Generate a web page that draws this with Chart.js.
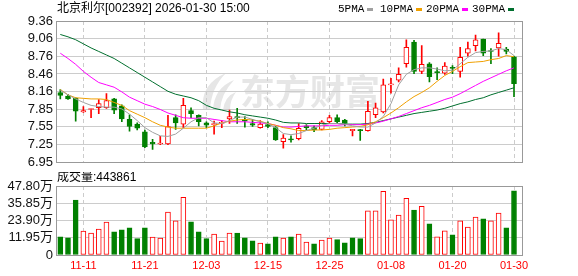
<!DOCTYPE html>
<html lang="zh">
<head>
<meta charset="UTF-8">
<script src="https://cdn.jsdelivr.net/npm/chart.js@4.4.0/dist/chart.umd.min.js"></script>
<title>北京利尔 日K</title>
<style>
    body { margin: 0; background: #fff; }
    canvas { position: absolute; left: 0; }
</style>
</head>
<body>
<canvas id="price" width="578" height="173" style="top:0"></canvas>
<canvas id="volume" width="578" height="104" style="top:172px"></canvas>

<script>
    const dates = ['11-06', '11-07', '11-10', '11-11', '11-12', '11-13', '11-14', '11-17', '11-18', '11-19',
        '11-20', '11-21', '11-24', '11-25', '11-26', '11-27', '11-28', '12-01', '12-02', '12-03',
        '12-04', '12-05', '12-08', '12-09', '12-10', '12-11', '12-12', '12-15', '12-16', '12-17',
        '12-18', '12-19', '12-22', '12-23', '12-24', '12-25', '12-26', '12-29', '12-30', '12-31',
        '01-05', '01-06', '01-07', '01-08', '01-09', '01-12', '01-13', '01-14', '01-15', '01-16',
        '01-19', '01-20', '01-21', '01-22', '01-23', '01-26', '01-27', '01-28', '01-29', '01-30'];

    const openP = [8.14, 8.08, 8.04, 7.81, 7.85, 7.88, 7.88, 8.03, 7.91, 7.68,
        7.60, 7.47, 7.29, 7.26, 7.26, 7.71, 7.60, 7.83, 7.75, 7.62,
        7.59, 7.61, 7.69, 7.73, 7.68, 7.61, 7.54, 7.59, 7.54, 7.30,
        7.34, 7.35, 7.57, 7.54, 7.51, 7.64, 7.71, 7.67, 7.49, 7.50,
        7.49, 7.76, 7.81, 8.27, 8.35, 8.63, 9.00, 8.50, 8.63, 8.49,
        8.47, 8.57, 8.50, 8.81, 8.94, 9.05, 8.85, 8.90, 8.88, 8.75];
    const closeP = [8.09, 8.03, 7.82, 7.83, 7.86, 7.95, 8.00, 7.84, 7.69, 7.56,
        7.53, 7.21, 7.26, 7.27, 7.56, 7.62, 7.92, 7.78, 7.64, 7.58,
        7.61, 7.63, 7.73, 7.71, 7.65, 7.58, 7.60, 7.56, 7.33, 7.36,
        7.33, 7.53, 7.54, 7.50, 7.64, 7.71, 7.64, 7.61, 7.51, 7.49,
        7.82, 7.88, 8.27, 8.28, 8.45, 8.91, 8.50, 8.62, 8.41, 8.48,
        8.59, 8.55, 8.74, 8.89, 9.04, 8.81, 8.84, 8.98, 8.84, 8.29];
    const highP = [8.19, 8.11, 8.05, 7.90, 7.86, 8.02, 8.12, 8.04, 7.93, 7.76,
        7.62, 7.50, 7.34, 7.39, 7.75, 7.76, 8.04, 7.88, 7.76, 7.64,
        7.65, 7.66, 7.84, 7.87, 7.73, 7.68, 7.66, 7.64, 7.56, 7.42,
        7.40, 7.61, 7.59, 7.57, 7.66, 7.75, 7.76, 7.68, 7.51, 7.51,
        7.99, 7.96, 8.37, 8.38, 8.56, 9.04, 9.03, 8.94, 8.65, 8.56,
        8.65, 8.60, 8.91, 9.00, 9.12, 9.05, 8.89, 9.16, 8.91, 8.76];
    const lowP = [8.03, 8.02, 7.65, 7.80, 7.71, 7.78, 7.87, 7.78, 7.64, 7.48,
        7.50, 7.20, 7.17, 7.25, 7.25, 7.51, 7.54, 7.71, 7.57, 7.54,
        7.43, 7.54, 7.61, 7.61, 7.55, 7.56, 7.53, 7.54, 7.32, 7.19,
        7.29, 7.33, 7.50, 7.47, 7.50, 7.61, 7.61, 7.57, 7.40, 7.32,
        7.48, 7.71, 7.79, 8.13, 8.32, 8.57, 8.46, 8.46, 8.32, 8.36,
        8.45, 8.46, 8.40, 8.76, 8.85, 8.77, 8.63, 8.76, 8.80, 8.07];

    // 成交量 (万)
    const volume = [12.6, 11.9, 38.1, 16.6, 15.2, 17.9, 22.8, 16.1, 17.5, 18.8,
        11.3, 18.8, 12.4, 11.7, 29.7, 23.7, 40.0, 23.0, 16.1, 11.3,
        14.5, 9.7, 15.2, 15.2, 11.9, 9.9, 8.3, 7.8, 12.6, 11.7,
        12.6, 14.5, 9.0, 7.8, 10.3, 11.7, 10.6, 8.5, 11.9, 11.3,
        30.6, 30.6, 44.1, 24.4, 27.6, 39.3, 31.2, 33.8, 21.6, 12.6,
        16.8, 14.0, 23.7, 19.3, 26.2, 25.0, 23.7, 29.0, 18.8, 44.3861];

    const ma5 = [8.18, 8.10, 8.03, 7.97, 7.92, 7.90, 7.89, 7.89, 7.86, 7.77,
        7.66, 7.54, 7.46, 7.40, 7.39, 7.43, 7.53, 7.64, 7.71, 7.71,
        7.62, 7.61, 7.66, 7.72, 7.72, 7.68, 7.64, 7.61, 7.54, 7.44,
        7.42, 7.44, 7.49, 7.53, 7.58, 7.61, 7.61, 7.60, 7.57, 7.55,
        7.55, 7.62, 7.73, 7.95, 8.27, 8.45, 8.53, 8.56, 8.56, 8.54,
        8.51, 8.52, 8.63, 8.74, 8.82, 8.84, 8.85, 8.89, 8.87, 8.77];
    const ma10 = [8.19, 8.10, 8.05, 8.04, 8.03, 8.03, 8.02, 7.97, 7.92, 7.83,
        7.77, 7.71, 7.64, 7.58, 7.55, 7.53, 7.53, 7.53, 7.53, 7.53,
        7.57, 7.62, 7.65, 7.67, 7.68, 7.67, 7.65, 7.61, 7.58, 7.54,
        7.52, 7.49, 7.49, 7.50, 7.50, 7.51, 7.53, 7.54, 7.55, 7.56,
        7.59, 7.64, 7.71, 7.79, 7.88, 7.98, 8.07, 8.14, 8.22, 8.33,
        8.43, 8.50, 8.58, 8.65, 8.66, 8.67, 8.70, 8.72, 8.77, 8.75];
    const ma20 = [8.81, 8.72, 8.62, 8.50, 8.40, 8.31, 8.27, 8.23, 8.15, 8.06,
        8.00, 7.94, 7.90, 7.85, 7.79, 7.75, 7.71, 7.70, 7.70, 7.70,
        7.68, 7.66, 7.64, 7.64, 7.64, 7.63, 7.62, 7.61, 7.58, 7.55,
        7.55, 7.56, 7.57, 7.57, 7.57, 7.58, 7.58, 7.59, 7.59, 7.59,
        7.60, 7.62, 7.65, 7.69, 7.73, 7.78, 7.83, 7.88, 7.92, 7.97,
        8.02, 8.06, 8.12, 8.19, 8.26, 8.33, 8.39, 8.45, 8.51, 8.56];
    const ma30 = [9.13, 9.09, 9.04, 8.97, 8.90, 8.84, 8.78, 8.72, 8.64, 8.56,
        8.48, 8.40, 8.32, 8.24, 8.16, 8.11, 8.08, 8.05, 8.00, 7.92,
        7.87, 7.84, 7.81, 7.79, 7.76, 7.74, 7.72, 7.70, 7.67, 7.63,
        7.62, 7.62, 7.61, 7.61, 7.61, 7.61, 7.61, 7.60, 7.60, 7.60,
        7.61, 7.63, 7.66, 7.69, 7.72, 7.75, 7.78, 7.80, 7.82, 7.84,
        7.87, 7.91, 7.95, 7.98, 8.02, 8.05, 8.10, 8.14, 8.18, 8.22];

    const priceTicks = ['6.95', '7.25', '7.55', '7.85', '8.16', '8.46', '8.76', '9.06', '9.36'];
    const volTicks = ['0', '11.95万', '23.90万', '35.85万', '47.80万'];
    const xTickIdx = [3, 11, 19, 27, 35, 43, 51, 59];

    const UP = '#ff0000';
    const DOWN = '#008000';
    const GRID = '#cccccc';
    const FRAME = '#999999';
    const LABEL_FONT = {family: "'Liberation Sans', Arial, 'Noto Sans CJK SC'", size: 13};

    const isUp = closeP.map((c, i) => c >= openP[i]);
    const volUp = closeP.map((c, i) => i > 0 && c >= closeP[i - 1]);

    function xAxis(showLabels) {
        return {
            type: 'linear',
            offset: false,
            min: -0.56,
            max: 60.04,
            afterBuildTicks: s => { s.ticks = xTickIdx.map(v => ({value: v})); },
            afterFit: s => { s.height = showLabels ? 21 : 0; },
            grid: {color: GRID, drawTicks: false, offset: false},
            border: {display: false, dash: [4, 3]},
            ticks: {
                display: showLabels, autoSkip: false, maxRotation: 0, padding: 4,
                color: UP, font: {family: "'Liberation Sans', Arial", size: 11},
                callback: v => dates[v]
            }
        };
    }

    function yAxis(labels) {
        const lo = parseFloat(labels[0]);
        const hi = parseFloat(labels[labels.length - 1]);
        const step = (hi - lo) / (labels.length - 1);
        return {
            min: lo,
            max: hi,
            afterBuildTicks: s => { s.ticks = labels.map((t, k) => ({value: lo + k * step})); },
            afterFit: s => { s.width = 56; },
            grid: {color: GRID, drawTicks: false},
            border: {display: false},
            ticks: {
                autoSkip: false, padding: 3, color: '#111', font: LABEL_FONT,
                callback: (v, k) => labels[k]
            }
        };
    }

    const framePlugin = {
        id: 'frame',
        afterDraw(chart) {
            const {ctx, chartArea: a} = chart;
            ctx.save();
            ctx.strokeStyle = FRAME;
            ctx.lineWidth = 1;
            ctx.strokeRect(Math.round(a.left) + 0.5, Math.round(a.top) + 0.5,
                Math.round(a.right - a.left), Math.round(a.bottom - a.top));
            ctx.restore();
        }
    };

    const priceDecor = {
        id: 'priceDecor',
        beforeDraw(chart) {
            // 东方财富 watermark
            const ctx = chart.ctx;
            ctx.save();
            ctx.fillStyle = '#e6e6e6';
            ctx.beginPath();
            ctx.moveTo(203, 110);
            ctx.quadraticCurveTo(200, 84, 226, 73);
            ctx.quadraticCurveTo(211, 88, 210, 110);
            ctx.closePath();
            ctx.fill();
            ctx.beginPath();
            ctx.moveTo(213, 110);
            ctx.quadraticCurveTo(214, 88, 234, 80);
            ctx.quadraticCurveTo(221, 94, 220, 110);
            ctx.closePath();
            ctx.fill();
            ctx.beginPath();
            ctx.moveTo(223, 110);
            ctx.quadraticCurveTo(225, 96, 236, 92);
            ctx.quadraticCurveTo(230, 100, 230, 110);
            ctx.closePath();
            ctx.fill();
            ctx.font = "bold 35px 'Noto Sans CJK SC'";
            ctx.textBaseline = 'middle';
            ctx.fillText('东方财富', 240, 92);
            ctx.restore();
        },
        afterDraw(chart) {
            const ctx = chart.ctx;
            ctx.save();
            ctx.fillStyle = '#000';
            ctx.textBaseline = 'middle';
            ctx.font = "12px 'Liberation Sans', 'Noto Sans CJK SC'";
            ctx.fillText('北京利尔[002392] 2026-01-30 15:00', 57, 9);

            const legend = [['5PMA', '#a0a0a0', 338], ['10PMA', '#f0a000', 380],
                ['20PMA', '#ff00ff', 426], ['30PMA', '#006f2e', 472]];
            ctx.font = "11px 'Liberation Mono', 'DejaVu Sans Mono'";
            for (const [name, color, x] of legend) {
                ctx.fillStyle = '#000';
                ctx.fillText(name, x, 9);
                const w = ctx.measureText(name).width;
                ctx.fillStyle = color;
                ctx.fillRect(Math.round(x + w + 3), 8, 6, 3);
            }
            ctx.restore();
        }
    };

    const volDecor = {
        id: 'volDecor',
        afterDraw(chart) {
            const ctx = chart.ctx;
            ctx.save();
            ctx.fillStyle = '#000';
            ctx.textBaseline = 'middle';
            ctx.font = "12px 'Liberation Sans', 'Noto Sans CJK SC'";
            ctx.fillText('成交量:443861', 57, 6);
            ctx.restore();
        }
    };

    const maLine = (data, color) => ({
        type: 'line',
        data: data.map((v, i) => ({x: i, y: v})),
        borderColor: color,
        borderWidth: 1,
        pointRadius: 0,
        tension: 0,
        order: 1
    });

    new Chart(document.getElementById('price').getContext('2d'), {
        type: 'bar',
        data: {
            datasets: [
                {
                    data: dates.map((d, i) => ({x: i, y: [lowP[i], highP[i]]})),
                    backgroundColor: isUp.map(u => u ? UP : DOWN),
                    barThickness: 1,
                    grouped: false,
                    order: 3
                },
                {
                    data: dates.map((d, i) => ({x: i, y: [openP[i], closeP[i]]})),
                    backgroundColor: isUp.map(u => u ? '#ffffff' : DOWN),
                    borderColor: isUp.map(u => u ? UP : DOWN),
                    borderWidth: 1,
                    borderSkipped: false,
                    barThickness: 5,
                    minBarLength: 1,
                    grouped: false,
                    order: 2
                },
                maLine(ma5, '#a0a0a0'),
                maLine(ma10, '#f0a000'),
                maLine(ma20, '#ff00ff'),
                maLine(ma30, '#006f2e')
            ]
        },
        options: {
            responsive: false,
            devicePixelRatio: 1,
            animation: false,
            events: [],
            layout: {padding: {top: 21, right: 56, bottom: 8, left: 0}},
            plugins: {legend: {display: false}, tooltip: {enabled: false}},
            scales: {x: xAxis(false), y: yAxis(priceTicks)}
        },
        plugins: [priceDecor, framePlugin]
    });

    new Chart(document.getElementById('volume').getContext('2d'), {
        type: 'bar',
        data: {
            datasets: [{
                data: volume.map((v, i) => ({x: i, y: v})),
                backgroundColor: volUp.map(u => u ? '#ffffff' : DOWN),
                borderColor: volUp.map(u => u ? UP : DOWN),
                borderWidth: 1,
                borderSkipped: false,
                barThickness: 5
            }]
        },
        options: {
            responsive: false,
            devicePixelRatio: 1,
            animation: false,
            events: [],
            layout: {padding: {top: 14, right: 56, bottom: 0, left: 0}},
            plugins: {legend: {display: false}, tooltip: {enabled: false}},
            scales: {x: xAxis(true), y: yAxis(volTicks)}
        },
        plugins: [volDecor, framePlugin]
    });
</script>
</body>
</html>
